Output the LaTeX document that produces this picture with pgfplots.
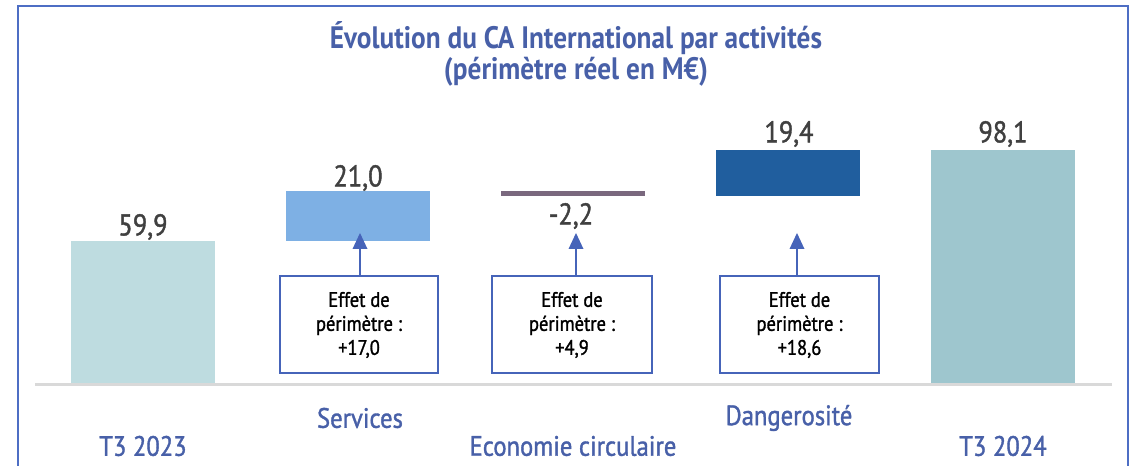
\documentclass[border=0pt]{standalone}
\usepackage{pgfplots}
\pgfplotsset{compat=1.18}
\usepackage{fontspec}
\setmainfont{PT Sans}[FakeStretch=0.88]
\newfontfamily\medfont{PT Sans}[FakeStretch=0.88,FakeBold=1.3]
\definecolor{titleblue}{RGB}{72,96,168}
\definecolor{framecol}{RGB}{78,110,196}
\definecolor{boxcol}{RGB}{70,100,185}
\definecolor{valcol}{RGB}{64,64,64}
\definecolor{cA}{RGB}{190,220,224}
\definecolor{cB}{RGB}{126,176,228}
\definecolor{cC}{RGB}{122,104,126}
\definecolor{cD}{RGB}{32,94,158}
\definecolor{cE}{RGB}{158,198,206}
\definecolor{basegray}{RGB}{217,217,217}
\begin{document}
\begin{tikzpicture}
\useasboundingbox (0,0) rectangle (568.5pt,233pt);
\begin{scope}[x=0.5pt,y=-0.5pt,yshift=233pt]
  % frame
  \draw[framecol,line width=1pt] (18,470) -- (18,6) -- (1128,6) -- (1128,470);
  % title
  \node[font=\bfseries\fontsize{15.5}{18}\selectfont,text=titleblue] at (576,38) {Évolution du CA International par activités};
  \node[font=\bfseries\fontsize{15.5}{18}\selectfont,text=titleblue] at (576,72) {(périmètre réel en M€)};
  % category labels
  \node[font=\medfont\fontsize{14}{16}\selectfont,text=titleblue] at (360,418) {Services};
  \node[font=\medfont\fontsize{14}{16}\selectfont,text=titleblue] at (789,418) {Dangerosité};
  \node[font=\medfont\fontsize{14}{16}\selectfont,text=titleblue] at (143,446) {T3 2023};
  \node[font=\medfont\fontsize{14}{16}\selectfont,text=titleblue] at (573,446) {Economie circulaire};
  \node[font=\medfont\fontsize{14}{16}\selectfont,text=titleblue] at (1003,446) {T3 2024};
\end{scope}
\begin{axis}[
  at={(17.75pt,41pt)}, anchor=south west,
  scale only axis, width=537.5pt, height=119.3pt,
  xmin=-0.5, xmax=4.5, ymin=0, ymax=100,
  hide axis, clip=false,
  ybar stacked, bar width=0.67,
]
\addplot[draw=none,fill=none] coordinates {(0,0) (1,59.9) (2,78.7) (3,78.7) (4,0)};
\addplot[draw=none,fill=cA] coordinates {(0,59.9) (1,0) (2,0) (3,0) (4,0)};
\addplot[draw=none,fill=cB] coordinates {(0,0) (1,21.0) (2,0) (3,0) (4,0)};
\addplot[draw=none,fill=cC] coordinates {(0,0) (1,0) (2,2.2) (3,0) (4,0)};
\addplot[draw=none,fill=cD] coordinates {(0,0) (1,0) (2,0) (3,19.4) (4,0)};
\addplot[draw=none,fill=cE] coordinates {(0,0) (1,0) (2,0) (3,0) (4,98.1)};
\end{axis}
\begin{scope}[x=0.5pt,y=-0.5pt,yshift=233pt]
  \draw[basegray,line width=1.5pt] (35,384.5) -- (1112,384.5);
  % value labels
  \node[font=\medfont\fontsize{15}{17}\selectfont,text=valcol] at (143,227) {59,9};
  \node[font=\medfont\fontsize{15}{17}\selectfont,text=valcol] at (358,178) {21,0};
  \node[font=\medfont\fontsize{15}{17}\selectfont,text=valcol] at (571,216) {-2,2};
  \node[font=\medfont\fontsize{15}{17}\selectfont,text=valcol] at (789,134) {19,4};
  \node[font=\medfont\fontsize{15}{17}\selectfont,text=valcol] at (1003,134) {98,1};
  % boxes
  \foreach \l/\r/\v in {280/438/+17{,}0, 492/652/+4{,}9, 720/879/+18{,}6}{
    \draw[boxcol,line width=0.6pt,fill=white] (\l,276) rectangle (\r,373);
    \node[font=\medfont\fontsize{10.5}{12}\selectfont,align=center] at ({(\l+\r)/2},325) {Effet de\\périmètre :\\\v};
  }
  % arrows
  \foreach \x in {360,576,797}{
    \draw[boxcol,line width=1pt] (\x,276) -- (\x,248);
    \fill[boxcol] (\x,233) -- (\x-7.5,249) -- (\x+7.5,249) -- cycle;
  }
\end{scope}
\end{tikzpicture}
\end{document}
